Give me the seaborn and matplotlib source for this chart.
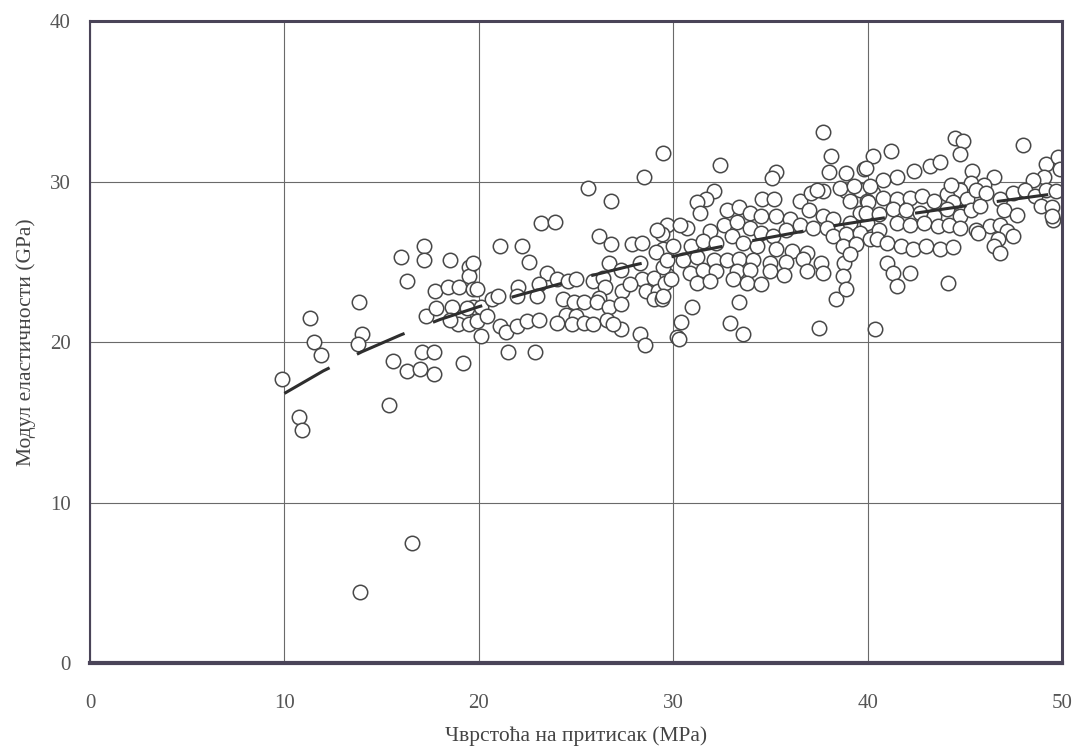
import matplotlib
matplotlib.use("Agg")
import matplotlib.pyplot as plt
import seaborn as sns
import pandas as pd

# ---- data ----
# compressive strength (MPa) and elastic modulus (GPa), grouped by region
strength_a = [9.9, 10.75, 10.9, 11.3, 11.5, 11.9, 13.85, 14.0, 13.8, 13.9, 16.55, 15.4,
              15.6, 16.3, 17.0, 17.7, 17.1, 17.7, 19.2, 16.3, 16.0, 17.2, 17.2, 18.5,
              19.5, 19.5, 17.75, 18.4, 19.0, 19.7, 17.3, 17.8, 18.6, 19.2, 19.7, 18.95,
              19.5, 19.4, 20.1, 18.5, 19.9, 20.1, 19.9, 19.7]
modulus_a = [17.7, 15.3, 14.5, 21.5, 20.0, 19.2, 22.5, 20.5, 19.9, 4.4, 7.5, 16.1,
             18.8, 18.2, 18.3, 18.0, 19.4, 19.4, 18.7, 23.8, 25.3, 26.0, 25.1, 25.1,
             24.7, 24.1, 23.2, 23.4, 23.4, 23.3, 21.6, 22.1, 22.2, 21.6, 22.2, 21.1,
             21.1, 22.1, 22.2, 21.4, 21.3, 20.4, 23.3, 24.9]

strength_b = [20.4, 20.7, 21.0, 21.1, 22.2, 22.6, 23.2, 23.9, 25.6, 26.8, 28.5, 29.5,
              26.2, 26.8, 27.9, 28.4, 29.7, 29.4, 23.5, 24.0, 23.1, 23.0, 22.0, 21.95,
              24.6, 25.0, 25.9, 26.4, 26.7, 27.3, 28.4, 29.0, 29.7, 26.5, 26.2, 27.35,
              27.8, 28.6, 29.2, 29.0, 29.4, 24.35, 24.9, 25.4, 26.1, 26.7, 27.3, 24.5,
              25.0, 24.0, 24.8, 25.4, 25.9, 26.6, 27.3, 28.3, 21.1, 21.4, 21.95, 22.5,
              23.1, 21.5, 22.9, 28.55, 30.2, 26.9, 29.5, 29.5, 29.6, 29.5, 29.1, 28.3,
              29.15]
modulus_b = [21.6, 22.65, 22.85, 26.0, 26.0, 25.0, 27.4, 27.5, 29.6, 28.8, 30.3, 31.8,
             26.6, 26.1, 26.1, 26.2, 27.3, 26.7, 24.3, 23.9, 23.6, 22.85, 23.4, 22.85,
             23.8, 23.9, 23.8, 24.0, 24.9, 24.5, 23.9, 24.0, 24.2, 23.4, 22.75, 23.2,
             23.6, 23.2, 23.2, 22.65, 22.65, 22.65, 22.5, 22.5, 22.5, 22.2, 22.4, 21.7,
             21.6, 21.2, 21.1, 21.2, 21.1, 21.4, 20.8, 20.5, 21.0, 20.6, 21.0, 21.3,
             21.4, 19.4, 19.35, 19.8, 20.3, 21.1, 25.8, 24.7, 23.7, 22.85, 25.6, 24.95,
             27.0]

strength_c = [37.7, 38.1, 32.4, 35.3, 35.1, 38.0, 38.9, 39.8, 40.3,
              38.4, 33.4, 30.95, 30.4, 30.3, 32.9, 33.6, 37.5, 40.4, 37.6,
              32.1, 31.7, 31.2, 31.4, 34.55, 35.2, 36.5, 37.1, 37.7, 38.9, 39.6, 40.3, 39.1, 39.95,
              32.75, 33.4, 33.95, 34.5, 35.3, 36.0, 37.0, 37.7, 38.2, 39.6, 39.95, 39.1, 30.7, 30.35,
              31.9, 32.6, 33.3, 33.95, 34.5, 35.15, 35.8, 36.5, 37.2, 37.9, 38.2, 38.9, 39.6, 40.1,
              30.0, 30.9, 31.55, 32.2, 33.0, 33.6, 34.3, 35.3, 36.1, 36.9, 38.75, 39.4,
              29.7, 30.5, 31.2, 32.1, 32.75, 33.4, 34.1, 35.0, 35.8, 36.7, 38.8, 39.1,
              30.85, 31.55, 32.2, 33.3, 33.95, 35.0, 35.7, 36.9, 37.7,
              31.2, 31.9, 33.1, 33.8, 34.5, 38.75, 29.9, 38.9, 37.4, 38.6, 39.3]
modulus_c = [33.1, 31.6, 31.0, 30.6, 30.2, 30.6, 30.5, 30.75, 31.6,
             22.7, 22.5, 22.2, 21.25, 20.2, 21.2, 20.5, 20.9, 20.8, 24.9,
             29.4, 28.9, 28.7, 28.05, 28.9, 28.9, 28.8, 29.3, 29.4, 29.4, 29.5, 29.3, 28.8, 28.8,
             28.2, 28.4, 28.05, 27.85, 27.85, 27.65, 28.2, 27.85, 27.65, 28.05, 27.4, 27.4, 27.1, 27.3,
             26.9, 27.3, 27.5, 27.1, 26.8, 26.6, 27.0, 27.3, 27.1, 27.1, 26.6, 26.7, 26.8, 26.4,
             26.0, 26.0, 26.3, 26.2, 26.6, 26.2, 26.0, 25.8, 25.7, 25.55, 26.0, 26.1,
             25.1, 25.1, 25.3, 25.1, 25.1, 25.2, 25.1, 24.9, 25.0, 25.2, 24.9, 25.5,
             24.3, 24.5, 24.4, 24.4, 24.5, 24.4, 24.2, 24.4, 24.3,
             23.7, 23.8, 23.9, 23.7, 23.6, 24.1, 23.9, 23.3, 29.5, 29.6, 29.7]

strength_d = [44.5, 44.9, 44.75, 48.0, 41.2, 39.9, 42.4, 43.2, 43.7, 45.35, 45.3, 46.5,
              46.0, 49.2, 49.8, 49.9, 49.1, 48.5, 41.5, 40.8, 40.1,
              40.0, 40.8, 41.5, 42.2, 42.8, 43.4, 44.1, 44.75, 44.4, 45.1, 45.6, 46.1,
              46.8, 47.5, 48.1, 48.6, 49.2, 49.7, 48.9, 49.5, 49.55, 47.0, 47.7,
              39.9, 40.6, 41.3, 42.0, 42.7, 43.4, 44.1, 44.75, 45.3, 45.8,
              40.6, 41.5, 42.2, 42.9, 43.6, 44.2, 44.75, 45.6, 46.3, 46.8, 47.15, 47.5,
              46.7, 45.7, 40.5, 41.0, 41.7, 42.35, 43.0, 43.7, 44.4, 46.5, 46.8,
              41.0, 41.3, 41.5, 42.2, 44.15, 44.3, 49.5]
modulus_d = [32.7, 32.5, 31.7, 32.3, 31.9, 30.85, 30.65, 30.95, 31.2, 30.65, 29.9, 30.3,
             29.8, 31.1, 31.5, 30.75, 30.3, 30.1, 30.3, 30.1, 29.7,
             28.7, 29.0, 28.9, 29.0, 29.1, 28.8, 29.2, 29.5, 28.7, 28.9, 29.5, 29.3,
             28.9, 29.3, 29.5, 29.1, 29.5, 29.4, 28.5, 28.4, 27.6, 28.2, 27.9,
             28.05, 27.95, 28.3, 28.2, 28.05, 27.85, 28.3, 27.85, 28.2, 28.5,
             27.0, 27.4, 27.3, 27.4, 27.2, 27.3, 27.1, 27.0, 27.2, 27.3, 26.9, 26.6,
             26.4, 26.8, 26.4, 26.2, 26.0, 25.8, 26.0, 25.8, 25.9, 26.0, 25.55,
             24.9, 24.3, 23.5, 24.3, 23.7, 29.8, 27.85]

# fitted trend curve
fit_strength = [10, 12, 14, 16, 18, 20, 22, 25, 28, 31, 34, 38, 42, 46, 50]
fit_modulus = [16.8, 18.2, 19.4, 20.45, 21.4, 22.2, 22.9, 23.9, 24.8, 25.6, 26.3, 27.2,
               27.95, 28.65, 29.3]

x_ticks = [0, 10, 20, 30, 40, 50]
y_ticks = [0, 10, 20, 30, 40]
x_label = "Чврстоћа на притисак (MPa)"
y_label = "Модул еластичности (GPa)"

df = pd.DataFrame({
    "strength": strength_a + strength_b + strength_c + strength_d,
    "modulus": modulus_a + modulus_b + modulus_c + modulus_d,
})
fit_df = pd.DataFrame({"strength": fit_strength, "modulus": fit_modulus})

# ---- styling ----
sns.set_style("white")
plt.rcParams["font.family"] = ["Liberation Serif", "DejaVu Serif"]

frame_col = "#4a4458"
text_col = "#555555"

fig = plt.figure(figsize=(10.74, 7.48), dpi=100)
ax = fig.add_axes([0.0838, 0.1136, 0.9050, 0.8583])

ax.set_xlim(0, 50)
ax.set_ylim(0, 40)
ax.set_xticks(x_ticks)
ax.set_yticks(y_ticks)
ax.grid(True, color="#6a6a6a", linewidth=0.8, zorder=0)
ax.set_axisbelow(True)

sns.scatterplot(data=df, x="strength", y="modulus", ax=ax, marker="o", s=108,
                facecolor="white", edgecolor="#474747", linewidth=1.1,
                zorder=3, legend=False)

sns.lineplot(data=fit_df, x="strength", y="modulus", ax=ax, color="#2e2e2e",
             linewidth=2.2, linestyle=(0, (17, 10)), zorder=4, legend=False,
             estimator=None, sort=False)

for side, lw in [("top", 2.2), ("bottom", 3.0), ("left", 1.5), ("right", 2.2)]:
    ax.spines[side].set_visible(True)
    ax.spines[side].set_color(frame_col)
    ax.spines[side].set_linewidth(lw)
    ax.spines[side].set_zorder(5)

ax.tick_params(axis="both", length=0, labelsize=15, colors=text_col)
ax.tick_params(axis="x", pad=22)
ax.tick_params(axis="y", pad=14)

ax.set_xlabel(x_label, fontsize=15.5, color="#444444", labelpad=10)
ax.set_ylabel(y_label, fontsize=15.5, color="#444444", labelpad=10)

fig.savefig("out.png", dpi=100, facecolor="white")
